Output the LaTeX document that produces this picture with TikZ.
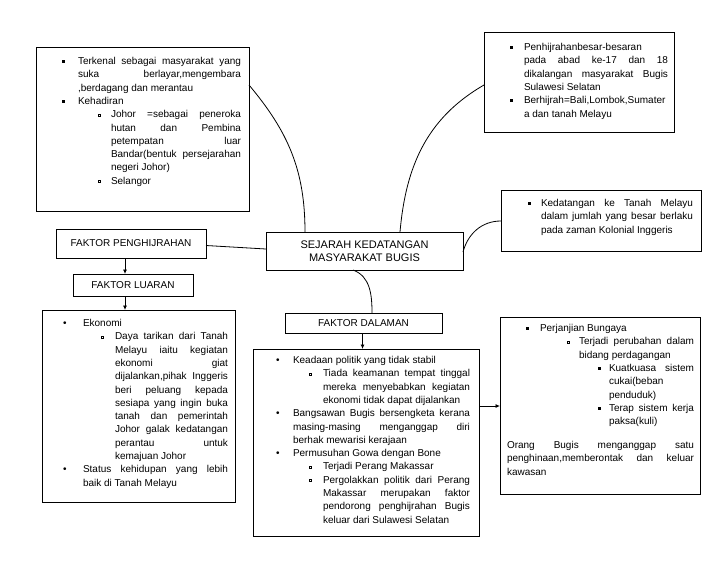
\documentclass[tikz,border=0pt]{standalone}
\usepackage{fontspec}
\setmainfont{Liberation Sans}
\usetikzlibrary{arrows.meta}
\newcommand\fb{\raisebox{1.8pt}{\rule{2.6pt}{2.6pt}}}
\newcommand\hb{\raisebox{1.8pt}{\fboxsep0pt\fboxrule0.4pt\fbox{\rule{0pt}{2pt}\rule{2pt}{0pt}}}}
\newcommand\rb{\raisebox{0.3pt}{\fontsize{10}{10}\selectfont\textbullet}}
\newcommand\Bu[3]{\noindent\hspace*{#1pt}\makebox[0pt][l]{#3}\hspace*{\dimexpr#2pt-#1pt\relax}}
\newcommand\In[1]{\noindent\hspace*{#1pt}}
\newcommand\J[2]{\makebox[#1pt][s]{#2}\par}
\newcommand\N[1]{\mbox{#1}\par}
\tikzset{
  boxA/.style={draw=black, line width=0.9pt, rectangle, inner sep=0pt, outer sep=0pt, anchor=north west},
  lbl/.style={boxA, font=\fontsize{10}{12}\selectfont},
  txt/.style={anchor=base west, inner sep=0pt, outer sep=0pt, font=\fontsize{10}{13.3}\selectfont},
  con/.style={line width=0.8pt, black},
  arr/.style={con, -{Latex[length=4.5pt,width=4pt]}}
}
\begin{document}
\begin{tikzpicture}[x=1pt,y=-1pt]
\useasboundingbox (0,0) rectangle (728,563);
% boxes
\node[boxA, minimum width=213pt, minimum height=164pt] (A) at (36,47) {};
\node[boxA, minimum width=190pt, minimum height=100pt] (B) at (484,32) {};
\node[boxA, minimum width=200pt, minimum height=61pt] (C) at (501,190) {};
\node[boxA, minimum width=197pt, minimum height=38pt, font=\fontsize{11}{13.5}\selectfont, align=center] (Ctr) at (266,232) {SEJARAH KEDATANGAN\\MASYARAKAT BUGIS};
\node[lbl, minimum width=150pt, minimum height=29pt] (FP) at (56,229) {FAKTOR PENGHIJRAHAN};
\node[lbl, minimum width=120pt, minimum height=22pt] (FL) at (73,274) {FAKTOR LUARAN};
\node[lbl, minimum width=157pt, minimum height=20pt] (FD) at (285,313) {FAKTOR DALAMAN};
\node[boxA, minimum width=193pt, minimum height=192pt] (D) at (42,310) {};
\node[boxA, minimum width=226pt, minimum height=187pt] (E) at (253,349) {};
\node[boxA, minimum width=200pt, minimum height=177pt] (F) at (500,317) {};
% texts
\node[txt] (At) at (36,64.5) {\begin{minipage}[t]{213pt}
\Bu{26}{42}{\fb}\J{163}{Terkenal sebagai masyarakat yang}
\In{42}\J{163}{suka berlayar,mengembara}
\In{42}\N{,berdagang dan merantau}
\Bu{26}{42}{\fb}\N{Kehadiran}
\Bu{62}{75}{\hb}\J{130}{Johor =sebagai peneroka}
\In{75}\J{130}{hutan dan Pembina}
\In{75}\J{130}{petempatan luar}
\In{75}\J{130}{Bandar(bentuk persejarahan}
\In{75}\N{negeri Johor)}
\Bu{62}{75}{\hb}\N{Selangor}
\end{minipage}};
\node[txt] (Bt) at (484,50.5) {\begin{minipage}[t]{190pt}
\Bu{26}{40}{\fb}\N{Penhijrahanbesar-besaran}
\In{40}\J{144}{pada abad ke-17 dan 18}
\In{40}\J{144}{dikalangan masyarakat Bugis}
\In{40}\N{Sulawesi Selatan}
\Bu{26}{40}{\fb}\N{Berhijrah=Bali,Lombok,Sumater}
\In{40}\N{a dan tanah Melayu}
\end{minipage}};
\node[txt] (Ct) at (501,206.5) {\begin{minipage}[t]{200pt}
\Bu{27}{40}{\fb}\J{152}{Kedatangan ke Tanah Melayu}
\In{40}\J{152}{dalam jumlah yang besar berlaku}
\In{40}\N{pada zaman Kolonial Inggeris}
\end{minipage}};
\node[txt] (Dt) at (42,326.5) {\begin{minipage}[t]{193pt}
\Bu{21}{41}{\rb}\N{Ekonomi}
\Bu{59}{73}{\hb}\J{113}{Daya tarikan dari Tanah}
\In{73}\J{113}{Melayu iaitu kegiatan}
\In{73}\J{113}{ekonomi giat}
\In{73}\J{113}{dijalankan,pihak Inggeris}
\In{73}\J{113}{beri peluang kepada}
\In{73}\J{113}{sesiapa yang ingin buka}
\In{73}\J{113}{tanah dan pemerintah}
\In{73}\J{113}{Johor galak kedatangan}
\In{73}\J{113}{perantau untuk}
\In{73}\N{kemajuan Johor}
\Bu{21}{41}{\rb}\J{145}{Status kehidupan yang lebih}
\In{41}\N{baik di Tanah Melayu}
\end{minipage}};
\node[txt] (Et) at (253,363.5) {\begin{minipage}[t]{226pt}
\Bu{23}{40}{\rb}\N{Keadaan politik yang tidak stabil}
\Bu{56}{70}{\hb}\J{147}{Tiada keamanan tempat tinggal}
\In{70}\J{147}{mereka menyebabkan kegiatan}
\In{70}\N{ekonomi tidak dapat dijalankan}
\Bu{23}{40}{\rb}\J{177}{Bangsawan Bugis bersengketa kerana}
\In{40}\J{177}{masing-masing menganggap diri}
\In{40}\N{berhak mewarisi kerajaan}
\Bu{23}{40}{\rb}\N{Permusuhan Gowa dengan Bone}
\Bu{56}{70}{\hb}\N{Terjadi Perang Makassar}
\Bu{56}{70}{\hb}\J{147}{Pergolakkan politik dari Perang}
\In{70}\J{147}{Makassar merupakan faktor}
\In{70}\J{147}{pendorong penghijrahan Bugis}
\In{70}\N{keluar dari Sulawesi Selatan}
\end{minipage}};
\node[txt] (Ft) at (500,331.5) {\begin{minipage}[t]{200pt}
\Bu{26}{40}{\fb}\N{Perjanjian Bungaya}
\Bu{67}{79}{\hb}\J{115}{Terjadi perubahan dalam}
\In{79}\N{bidang perdagangan}
\Bu{98}{109}{\fb}\J{85}{Kuatkuasa sistem}
\In{109}\N{cukai(beban}
\In{109}\N{penduduk)}
\Bu{98}{109}{\fb}\J{85}{Terap sistem kerja}
\In{109}\N{paksa(kuli)}
\vspace{10.7pt}
\In{7}\J{187}{Orang Bugis menganggap satu}
\In{7}\J{187}{penghinaan,memberontak dan keluar}
\In{7}\N{kawasan}
\end{minipage}};
% connectors
\draw[con] ([yshift=-38pt]A.north east) to[out=-50,in=90] ([xshift=39pt]Ctr.north west);
\draw[con] ([xshift=134pt]Ctr.north west) to[out=85,in=-150] ([yshift=-53pt]B.north west);
\draw[con] ([yshift=-20pt]Ctr.north east) to[out=75,in=180] ([yshift=-31pt]C.north west);
\draw[con] ([yshift=-2pt]FP.east) -- ([yshift=2pt]Ctr.west);
\draw[arr] ([xshift=-6pt]FP.south) -- ([xshift=-6pt]FP.south |- FL.north);
\draw[arr] ([xshift=-8pt]FL.south) -- ([xshift=-8pt]FL.south |- D.north);
\draw[con] ([xshift=87pt]Ctr.south west) to[out=-20,in=90] ([xshift=87pt]FD.north west);
\draw[arr] ([xshift=-1pt]FD.south) -- ([xshift=-1pt]FD.south |- E.north);
\draw[arr] ([yshift=-57pt]E.north east) -- ([yshift=-57pt]E.north east -| F.west);
\end{tikzpicture}
\end{document}
